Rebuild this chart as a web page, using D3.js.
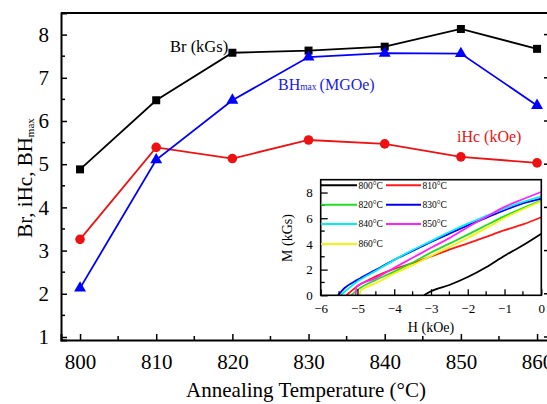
<!DOCTYPE html>
<html><head><meta charset="utf-8">
<script src="https://cdn.jsdelivr.net/npm/d3@7"></script>
<style>body{margin:0;background:#fff}svg{display:block}svg text{font-family:"Liberation Serif",Tinos,"Times New Roman",Times,"DejaVu Serif",serif !important}</style>
</head><body>
<script>
// ---- main chart data ----
const temps = [800, 810, 820, 830, 840, 850, 860];
const brVals = [4.88, 6.48, 7.58, 7.63, 7.72, 8.13, 7.67];
const bhVals = [2.13, 5.10, 6.48, 7.48, 7.57, 7.56, 6.36];
const ihcVals = [3.26, 5.39, 5.13, 5.56, 5.47, 5.17, 5.03];
const xTicks = [800, 810, 820, 830, 840, 850, 860];
const yTicks = [1, 2, 3, 4, 5, 6, 7, 8];

// ---- inset data: demagnetization curves (H kOe, M kGs) ----
const h800 = [-3.19, -3.0, -2.5, -2.0, -1.5, -1.0, -0.5, 0];
const m800 = [0, 0.31, 0.80, 1.42, 2.18, 3.08, 3.90, 4.80];
const h810 = [-5.30, -5.0, -4.5, -4.0, -3.5, -3.0, -2.5, -2.0, -1.5, -1.0, -0.5, 0];
const m810 = [0, 0.70, 1.47, 2.05, 2.50, 3.02, 3.56, 4.04, 4.55, 5.07, 5.52, 6.08];
const h820 = [-5.17, -5.0, -4.5, -4.0, -3.5, -3.0, -2.5, -2.0, -1.5, -1.0, -0.5, 0];
const m820 = [0, 0.42, 1.20, 1.84, 2.55, 3.33, 4.02, 4.72, 5.45, 6.16, 6.80, 7.38];
const h830 = [-5.53, -5.35, -5.0, -4.5, -4.0, -3.5, -3.0, -2.5, -2.0, -1.5, -1.0, -0.5, 0];
const m830 = [0, 0.57, 1.20, 1.98, 2.76, 3.45, 4.16, 4.80, 5.44, 6.03, 6.62, 7.15, 7.53];
const h840 = [-5.46, -5.0, -4.5, -4.0, -3.5, -3.0, -2.5, -2.0, -1.5, -1.0, -0.5, 0];
const m840 = [0, 1.07, 1.90, 2.76, 3.52, 4.22, 4.93, 5.58, 6.18, 6.76, 7.28, 7.71];
const h850 = [-5.05, -5.02, -4.5, -4.0, -3.5, -3.0, -2.5, -2.0, -1.5, -1.0, -0.5, 0];
const m850 = [0, 0.70, 1.33, 2.14, 2.92, 3.70, 4.45, 5.30, 6.10, 6.88, 7.48, 8.05];
const h860 = [-4.95, -4.9, -4.8, -4.5, -4.0, -3.5, -3.0, -2.5, -2.0, -1.5, -1.0, -0.5, 0];
const m860 = [0, 0.40, 0.57, 0.94, 1.70, 2.35, 3.06, 3.76, 4.46, 5.23, 6.02, 6.70, 7.32];
const curveNames = ["800°C", "810°C", "820°C", "830°C", "840°C", "850°C", "860°C"];
const curveH = [h800, h810, h820, h830, h840, h850, h860];
const curveM = [m800, m810, m820, m830, m840, m850, m860];
const curveColors = ["#000000", "#ff1a1a", "#22dd22", "#0000ee", "#00f0f0", "#ff22ff", "#f4f40a"];
const insetXTicks = [-6, -5, -4, -3, -2, -1, 0];
const insetYTicks = [0, 2, 4, 6, 8];

const SERIF = '"Liberation Serif", Tinos, "Times New Roman", Times, "DejaVu Serif", serif';
const W = 547, H = 404;
const svg = d3.select("body").append("svg").attr("width", W).attr("height", H)
  .attr("font-family", SERIF);

const x = d3.scaleLinear().domain([797.5, 861.7]).range([61, 550]);
const y = d3.scaleLinear().domain([0.93, 8.5]).range([340, 13]);

// frame
svg.append("line").attr("x1", 61).attr("x2", 560).attr("y1", 13).attr("y2", 13).attr("stroke", "#000").attr("stroke-width", 2);
svg.append("line").attr("x1", 550).attr("x2", 550).attr("y1", 13).attr("y2", 340).attr("stroke", "#000").attr("stroke-width", 2);

// left axis
const yAxis = d3.axisLeft(y).tickValues(yTicks).tickSize(-6).tickPadding(10).tickFormat(d3.format("d"));
const ya = svg.append("g").attr("transform", "translate(61,0)").call(yAxis).attr("font-family", SERIF);
ya.select(".domain").attr("stroke-width", 2);
ya.selectAll(".tick line").attr("stroke-width", 1.5);
ya.selectAll("text").attr("font-size", 21).attr("dx", "-2");
const yMinor = d3.range(1.5, 8.5, 1);
svg.append("g").selectAll("line").data(yMinor).join("line")
  .attr("x1", 61).attr("x2", 65).attr("y1", d => y(d)).attr("y2", d => y(d)).attr("stroke", "#000").attr("stroke-width", 1.5);
svg.append("g").selectAll("line").data(yTicks).join("line")
  .attr("x1", 544).attr("x2", 550).attr("y1", d => y(d)).attr("y2", d => y(d)).attr("stroke", "#000").attr("stroke-width", 1.5);

// bottom axis
const xAxis = d3.axisBottom(x).tickValues(xTicks).tickSize(-6).tickPadding(14).tickFormat(d3.format("d"));
const xa = svg.append("g").attr("transform", "translate(0,340)").call(xAxis).attr("font-family", SERIF);
xa.select(".domain").attr("stroke-width", 2);
xa.selectAll(".tick line").attr("stroke-width", 1.5);
xa.selectAll("text").attr("font-size", 21);
const xMinor = d3.range(805, 862, 10);
svg.append("g").selectAll("line").data(xMinor).join("line")
  .attr("x1", d => x(d)).attr("x2", d => x(d)).attr("y1", 340).attr("y2", 336).attr("stroke", "#000").attr("stroke-width", 1.5);

// axis titles
svg.append("text").attr("x", 306).attr("y", 397).attr("text-anchor", "middle").attr("font-size", 21)
  .text("Annealing Temperature (°C)");
const yt = svg.append("text").attr("transform", "translate(32,178) rotate(-90)").attr("text-anchor", "middle").attr("font-size", 21);
yt.append("tspan").text("Br, iHc, BH");
yt.append("tspan").attr("font-size", 11).attr("dy", 2).text("max");

// series
const series = [
  {vals: brVals, color: "#000000", shape: d3.symbolSquare, size: 64},
  {vals: ihcVals, color: "#ee1111", shape: d3.symbolCircle, size: 72},
  {vals: bhVals, color: "#0000ff", shape: d3.symbolTriangle, size: 62},
];
const line = d3.line().x((d, i) => x(temps[i])).y(d => y(d));
series.forEach(s => {
  svg.append("path").attr("d", line(s.vals)).attr("fill", "none").attr("stroke", s.color).attr("stroke-width", 1.8);
  svg.append("g").selectAll("path").data(s.vals).join("path")
    .attr("transform", (d, i) => `translate(${x(temps[i])},${y(d)})`)
    .attr("d", d3.symbol().type(s.shape).size(s.size)).attr("fill", s.color);
});

// series labels
svg.append("text").attr("x", 170).attr("y", 52).attr("font-size", 16.5).attr("fill", "#000").text("Br (kGs)");
const bl = svg.append("text").attr("x", 278).attr("y", 90).attr("font-size", 16).attr("fill", "#1a1aee");
bl.append("tspan").text("BH");
bl.append("tspan").attr("font-size", 9.5).text("max");
bl.append("tspan").attr("dx", 3).text("(MGOe)");
svg.append("text").attr("x", 457).attr("y", 142).attr("font-size", 16).attr("fill", "#ee1111").text("iHc (kOe)");

// ---- inset ----
const ix = d3.scaleLinear().domain([-6, 0]).range([320.7, 541.3]);
const iy = d3.scaleLinear().domain([0, 9]).range([295.3, 179.7]);
svg.append("rect").attr("x", 320.7).attr("y", 179.7).attr("width", 541.3 - 320.7).attr("height", 295.3 - 179.7)
  .attr("fill", "#fff");

const cl = d3.line().x(d => ix(d[0])).y(d => iy(d[1])).curve(d3.curveMonotoneX);
svg.append("clipPath").attr("id", "ic").append("rect")
  .attr("x", 320.7).attr("y", 179.7).attr("width", 541.3 - 320.7).attr("height", 295.3 - 179.7);
const cg = svg.append("g").attr("clip-path", "url(#ic)");
curveNames.forEach((n, k) => {
  const pts = curveH[k].map((h, i) => [h, curveM[k][i]]);
  cg.append("path").attr("d", cl(pts)).attr("fill", "none").attr("stroke", curveColors[k]).attr("stroke-width", 1.8);
});

const iya = svg.append("g").attr("transform", "translate(320.7,0)")
  .call(d3.axisLeft(iy).tickValues(insetYTicks).tickSize(-7).tickPadding(8).tickFormat(d3.format("d"))).attr("font-family", SERIF);
iya.select(".domain").remove();
iya.selectAll("text").attr("font-size", 13);
iya.selectAll(".tick line").attr("stroke-width", 1.3);
svg.append("g").selectAll("line").data([1, 3, 5, 7]).join("line")
  .attr("x1", 320.7).attr("x2", 324.7).attr("y1", d => iy(d)).attr("y2", d => iy(d)).attr("stroke", "#000").attr("stroke-width", 1.3);

const ixa = svg.append("g").attr("transform", "translate(0,295.3)")
  .call(d3.axisBottom(ix).tickValues(insetXTicks).tickSize(-6).tickPadding(8).tickFormat(d3.format("d"))).attr("font-family", SERIF);
ixa.select(".domain").remove();
ixa.selectAll("text").attr("font-size", 13);
ixa.selectAll(".tick line").attr("stroke-width", 1.3);
svg.append("g").selectAll("line").data(d3.range(-5.5, 0, 1)).join("line")
  .attr("x1", d => ix(d)).attr("x2", d => ix(d)).attr("y1", 295.3).attr("y2", 291.3).attr("stroke", "#000").attr("stroke-width", 1.3);

svg.append("rect").attr("x", 320.7).attr("y", 179.7).attr("width", 541.3 - 320.7).attr("height", 295.3 - 179.7)
  .attr("fill", "none").attr("stroke", "#000").attr("stroke-width", 1.6);

svg.append("text").attr("x", 431).attr("y", 332).attr("text-anchor", "middle").attr("font-size", 14).text("H (kOe)");
svg.append("text").attr("transform", "translate(292,238) rotate(-90)").attr("text-anchor", "middle").attr("font-size", 14).text("M (kGs)");

const legRows = [185.3, 204.7, 224, 244];
curveNames.forEach((n, k) => {
  const row = Math.floor(k / 2), col = k % 2;
  const x0 = col === 0 ? 321 : 386, x1 = col === 0 ? 357 : 421;
  svg.append("line").attr("x1", x0).attr("x2", x1).attr("y1", legRows[row]).attr("y2", legRows[row])
    .attr("stroke", curveColors[k]).attr("stroke-width", 2);
  svg.append("text").attr("x", x1 + 1.5).attr("y", legRows[row] + 3.2).attr("font-size", 9.5).text(n);
});
</script>
</body></html>
